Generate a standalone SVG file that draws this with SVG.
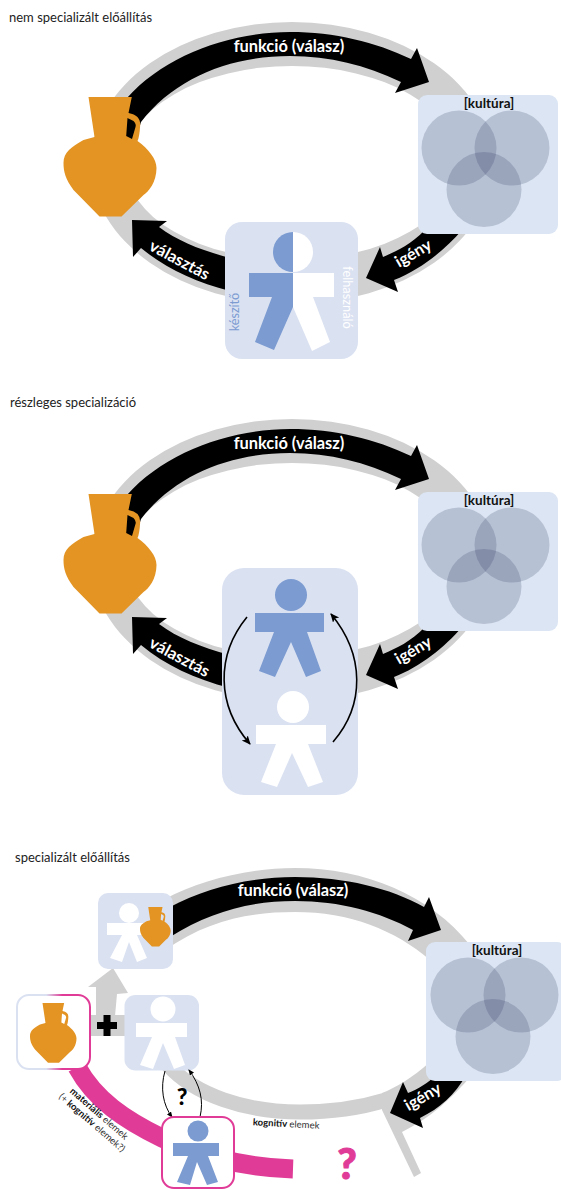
<svg xmlns="http://www.w3.org/2000/svg" width="561" height="1189" viewBox="0 0 561 1189">
<style>
text{font-family:"Lato","Open Sans","Liberation Sans",sans-serif}
.title{font-size:13px;fill:#222}
.lbl{font-size:16.400px;font-weight:700;fill:#fff;text-anchor:middle}
.kult{font-size:13.500px;font-weight:700;fill:#111;text-anchor:middle}
.ring{fill:#d0d0d0;fill-rule:evenodd}
.blk{fill:#000}
.venn{fill:#dbe5f3}
.vc{fill:#273158;fill-opacity:.2}
.pbox{fill:#dae1f1}
.blue{fill:#7b9bd1}
.wht{fill:#fff}
.thin{fill:none;stroke:#000;stroke-width:1.600;marker-end:url(#ah)}
.thin2{fill:none;stroke:#000;stroke-width:1;marker-end:url(#ah2)}
.small{font-size:9.500px;fill:#333}
</style>
<defs>
<marker id="ah" markerWidth="10" markerHeight="10" refX="8" refY="4" orient="auto" markerUnits="userSpaceOnUse"><path d="M0 0L9 4L0 8L2 4Z" fill="#000"/></marker>
<marker id="ah2" markerWidth="7" markerHeight="6" refX="5" refY="2.500" orient="auto" markerUnits="userSpaceOnUse"><path d="M0 0L6 2.500L0 5Z" fill="#000"/></marker>
<linearGradient id="pg" x1="0" y1="0" x2="1" y2="0"><stop offset="0.400" stop-color="#dae1f1"/><stop offset="0.620" stop-color="#e03c97"/></linearGradient>
<path id="jug" fill="#e39423" fill-rule="evenodd" d="M25 0L68.300 0L65 16Q77 18 76.700 28Q76 40 74 44C85 52 93 62 93 71C93 85 85 95 80 98L58 119.500L36 119.500L10 93C2 82 0 75 0 66C0 55 8 50 20 43L31 40ZM64 21L62.700 39L68.500 42L72 30Q73 27 70 24Z"/>
<g id="venn-circles">
<circle class="vc" cx="41" cy="53" r="37.500"/><circle class="vc" cx="94" cy="53" r="37.500"/><circle class="vc" cx="66" cy="94.500" r="37.500"/>
</g>
<path id="ring" class="ring" d="M91 163A201 141 0 1 0 493 163A201 141 0 1 0 91 163ZM125 163A167 97 0 1 0 459 163A167 97 0 1 0 125 163Z"/>
<path id="a-funkcio" class="blk" d="M127 98C165 55 230 32 290 32C335 32 375 42 411 59L417 48L429 82L395 93L401 82C365 65 330 56 290 56C230 56 175 78 141 122L134 145L118 140Z"/>
<path id="a-igeny" class="blk" d="M380 247L383 257C397 251 410 245 425 230L462 230C445 250 420 270 394 280L398 292L366 278Z"/>
<path id="a-valasztas" class="blk" d="M132 220L167 221L159 227C178 241 200 250 230 258L230 291C195 282 165 268 141 248L133 257Z"/>
</defs>

<g id="connectors">
<use href="#ring"/>
<use href="#a-funkcio"/>
<use href="#a-igeny"/>
<use href="#a-valasztas"/>
<use href="#ring" y="397"/>
<use href="#a-funkcio" y="397"/>
<use href="#a-igeny" y="397"/>
<use href="#a-valasztas" y="397"/>
<path class="ring" d="M165 899C200 880 250 868 295 868C365 868 430 895 470 945L430 960C395 930 350 912 295 912C250 912 208 920 165 950Z"/>
<path d="M168 1065C195 1095 245 1112 300 1112C330 1112 360 1108 386 1100" fill="none" stroke="#d0d0d0" stroke-width="15"/>
<path class="ring" d="M382 1110L382 1093C395 1088 412 1078 430 1062L472 1075C450 1100 430 1118 402 1132L421 1173L414 1177Z"/>
<path class="blk" d="M170 907C205 888 250 877 295 877C345 877 390 888 424 907L429 897L441 930L408 941L413 930C380 912 340 901 295 901C250 901 210 912 170 937Z"/>
<path class="blk" d="M390 1113L403 1082L408 1093C418 1089 428 1083 436 1075L466 1075C455 1095 440 1108 420 1118L423 1128Z"/>
<path class="ring" d="M96 1016L96 987L88 987L113 968L128 993L117 994L115 1016Z"/>
<rect x="89" y="1015" width="37" height="21" fill="#d0d0d0"/>
<path d="M77 1067C95 1100 125 1120 162 1138C190 1152 235 1167 293 1169" fill="none" stroke="#e03c97" stroke-width="19"/>
</g>

<g id="panel1">
<text class="title" x="9" y="22">nem specializált előállítás</text>
<text class="lbl" x="289" y="52">funkció (válasz)</text>
<text class="lbl" transform="translate(416 258) rotate(-30)">igény</text>
<text class="lbl" transform="translate(177 265) rotate(28)">választás</text>
<g id="jug1"><use href="#jug" x="63.500" y="97"/></g>
<g id="culture1"><rect class="venn" x="418" y="95" width="140" height="139" rx="9"/><use href="#venn-circles" x="418" y="95"/><text class="kult" x="489" y="108">[kultúra]</text></g>
<g id="person1">
<rect class="pbox" x="225" y="222" width="133" height="137" rx="17"/>
<path class="blue" d="M293 232A20 20 0 0 0 293 272Z"/>
<path class="wht" d="M293 232A20 20 0 0 1 293 272Z"/>
<path class="blue" d="M249 273H293V307L274 350L255 342L272 297H249Z"/>
<path class="wht" d="M293 273H334V297H313L330 342L312 351L293 307Z"/>
<text transform="translate(239 312) rotate(-90)" text-anchor="middle" font-size="12.600" fill="#7b9bd1">készítő</text>
<text transform="translate(343 297.500) rotate(90)" text-anchor="middle" font-size="12.800" fill="#fff">felhasználó</text>
</g>
</g>

<g id="panel2">
<text class="title" x="10" y="407">részleges specializáció</text>
<text class="lbl" x="289" y="449">funkció (válasz)</text>
<text class="lbl" transform="translate(416 655) rotate(-30)">igény</text>
<text class="lbl" transform="translate(177 662) rotate(28)">választás</text>
<g id="jug2"><use href="#jug" x="63.500" y="494"/></g>
<g id="culture2"><rect class="venn" x="418" y="492" width="140" height="139" rx="9"/><use href="#venn-circles" x="418" y="492"/><text class="kult" x="489" y="505">[kultúra]</text></g>
<g id="person2">
<rect class="pbox" x="222" y="568" width="136" height="227" rx="22"/>
<circle class="blue" cx="291" cy="595" r="16"/>
<path class="blue" d="M255 613H324V632H307L321 671L306 677L291 642L275 677L259 671L274 632H255Z"/>
<circle class="wht" cx="293" cy="707" r="16"/>
<path class="wht" d="M256 725H326V744H308L323 782L308 787L292 753L277 787L261 782L276 744H256Z"/>
<path class="thin" d="M247 617C216 655 216 705 250 744"/>
<path class="thin" d="M333 742C365 705 365 655 331 614"/>
</g>
</g>

<g id="panel3">
<text class="title" x="15" y="862">specializált előállítás</text>
<text class="lbl" x="293" y="896">funkció (válasz)</text>
<text class="lbl" transform="translate(425.500 1101.500) rotate(-30)">igény</text>
<g id="culture3"><rect class="venn" x="426" y="942" width="140" height="139" rx="9"/><use href="#venn-circles" x="427" y="942"/><text class="kult" x="497" y="955">[kultúra]</text></g>
<g id="producer-user">
<rect class="pbox" x="98" y="893" width="75" height="76" rx="10"/>
<circle class="wht" cx="129" cy="913" r="10"/>
<path class="wht" d="M107 923H143V935H137L147 958L137 962L129 942L122 962L110 958L122 935H107Z"/>
<use href="#jug" transform="translate(140 907) scale(.33)"/>
</g>
<g id="plus"><path class="blk" d="M103.500 1015H110.500V1022H117V1029H110.500V1036H103.500V1029H97V1022H103.500Z"/></g>
<g id="jug3">
<rect x="17" y="995" width="73" height="74" rx="12" fill="#fff" stroke="url(#pg)" stroke-width="2"/>
<use href="#jug" transform="translate(30 1003) scale(.5)"/>
</g>
<g id="person3">
<rect class="pbox" x="124.500" y="995" width="74.500" height="75.500" rx="11"/>
<circle class="wht" cx="163" cy="1009" r="12.500"/>
<path class="wht" d="M136 1023H187V1037H175L185 1065L174 1069L163 1043L153 1069L140 1065L152 1037H136Z"/>
</g>
<path class="thin2" d="M165 1071C160 1088 163 1105 172 1117"/>
<path class="thin2" d="M200 1117C204 1100 200 1085 189 1070"/>
<text x="182" y="1105" text-anchor="middle" font-size="23" font-weight="900" fill="#000">?</text>
<g id="person4">
<rect x="162" y="1117" width="72" height="71" rx="12" fill="#fff" stroke="#e03c97" stroke-width="2"/>
<circle class="blue" cx="198" cy="1131" r="10.500"/>
<path class="blue" d="M173 1143H219V1156H208L218 1182L207 1185L197 1162L190 1185L177 1182L188 1156H173Z"/>
</g>
<text class="small" transform="translate(286 1127) rotate(3)" text-anchor="middle"><tspan font-weight="700" fill="#111">kognitív</tspan> elemek</text>
<text class="small" transform="translate(97 1116) rotate(41)" text-anchor="middle"><tspan font-weight="700" fill="#111">materiális</tspan> elemek</text>
<text class="small" transform="translate(90 1125) rotate(41)" text-anchor="middle">(+ <tspan font-weight="700" fill="#111">kognitív</tspan> elemek?)</text>
<text x="347" y="1179" text-anchor="middle" font-size="42" font-weight="900" fill="#e03c97" stroke="#e03c97" stroke-width="1">?</text>
</g>
</svg>
